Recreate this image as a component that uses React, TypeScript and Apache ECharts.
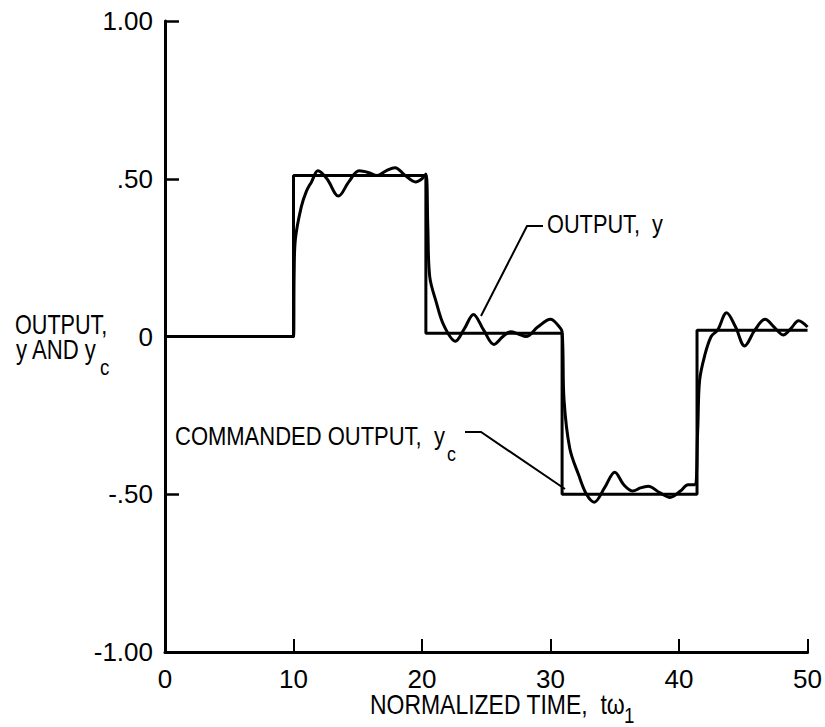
import React, { useEffect, useRef } from "react";
import * as echarts from "echarts";

// Commanded output y_c (step signal): [time, value]
const commandedTime = [0, 10, 10, 20.3, 20.3, 30.9, 30.9, 41.4, 41.4, 50];
const commandedValue = [0, 0, 0.51, 0.51, 0.01, 0.01, -0.5, -0.5, 0.02, 0.02];

// Output y (response): [time, value]
const outputTime = [
  0, 10.0, 10.05, 10.15, 10.6, 11.0, 11.4, 11.9, 12.6, 13.5, 14.3, 15.1, 15.8, 16.5, 17.2, 17.9,
  18.7, 19.5, 20.0, 20.3, 20.45, 20.6, 21.1, 21.7, 22.6, 23.3, 24.0, 24.8, 25.6, 26.3, 26.9,
  27.5, 28.1, 29.0, 30.0, 30.6, 30.9, 31.05, 31.5, 32.2, 32.8, 33.4, 34.2, 35.0, 35.7, 36.4,
  37.0, 37.6, 38.5, 39.3, 40.1, 40.7, 41.2, 41.45, 41.6, 42.0, 42.5, 43.0, 43.7, 44.4, 45.1,
  45.9, 46.7, 47.4, 48.1, 48.7, 49.3, 50.0,
];
const outputValue = [
  0, 0, 0.2, 0.31, 0.41, 0.46, 0.49, 0.525, 0.5, 0.445, 0.49, 0.525, 0.52, 0.51, 0.525, 0.535,
  0.51, 0.49, 0.5, 0.515, 0.35, 0.19, 0.11, 0.035, -0.015, 0.025, 0.07, 0.02, -0.025, 0.0, 0.015,
  0.008, 0.0, 0.03, 0.055, 0.035, 0.015, -0.2, -0.355, -0.44, -0.5, -0.525, -0.48, -0.43, -0.47, -0.49,
  -0.48, -0.475, -0.495, -0.51, -0.49, -0.47, -0.47, -0.3, -0.14, -0.06, 0.0, 0.02, 0.075, 0.03, -0.03,
  0.02, 0.055, 0.03, 0.005, 0.025, 0.05, 0.03,
];

const xTicks = [0, 10, 20, 30, 40, 50];
const yTickLabels: Record<string, string> = {
  "1": "1.00",
  "0.5": ".50",
  "0": "0",
  "-0.5": "-.50",
  "-1": "-1.00",
};

const FONT = '"Liberation Sans", Arimo, Arial, sans-serif';

function label(text: string, x: number, y: number, size: number, scaleX: number) {
  return {
    type: "text",
    x,
    y,
    scaleX,
    style: {
      text,
      fill: "#000",
      font: `${size}px ${FONT}`,
      textAlign: "left",
      textVerticalAlign: "middle",
    },
  };
}

export default function App() {
  const ref = useRef<HTMLDivElement>(null);

  useEffect(() => {
    if (!ref.current) return;
    const chart = echarts.init(ref.current, undefined, { renderer: "svg" });
    const cmd = commandedTime.map((t, i) => [t, commandedValue[i]]);
    const out = outputTime.map((t, i) => [t, outputValue[i]]);

    chart.setOption({
      animation: false,
      backgroundColor: "#ffffff",
      grid: { left: 165, right: 17, top: 21, bottom: 75, containLabel: false },
      xAxis: {
        type: "value",
        min: xTicks[0],
        max: xTicks[xTicks.length - 1],
        interval: 10,
        axisLine: { onZero: false, lineStyle: { color: "#000", width: 3 } },
        axisTick: { inside: true, length: 13, lineStyle: { color: "#000", width: 2 } },
        splitLine: { show: false },
        axisLabel: {
          color: "#000",
          fontFamily: FONT,
          fontSize: 26,
          margin: 14,
        },
      },
      yAxis: {
        type: "value",
        min: -1,
        max: 1,
        interval: 0.5,
        axisLine: { onZero: false, lineStyle: { color: "#000", width: 3 } },
        axisTick: { inside: true, length: 14, lineStyle: { color: "#000", width: 2.5 } },
        splitLine: { show: false },
        axisLabel: {
          color: "#000",
          fontFamily: FONT,
          fontSize: 26,
          margin: 12,
          formatter: (v: number) => yTickLabels[String(v)] ?? "",
        },
      },
      graphic: [
        // y-axis title
        label("OUTPUT,", 15, 325, 27, 0.8),
        label("y AND y", 16, 350, 27, 0.82),
        label("c", 100, 367, 22, 0.85),
        // x-axis title
        label("NORMALIZED TIME,  tω", 370, 704, 28, 0.82),
        label("1", 624, 715, 22, 0.85),
        // annotation: output
        label("OUTPUT,  y", 547, 224, 25, 0.87),
        {
          type: "polyline",
          shape: { points: [[481, 316], [527, 226], [543, 226]] },
          style: { stroke: "#000", lineWidth: 2, fill: "none" },
        },
        // annotation: commanded output
        label("COMMANDED OUTPUT,  y", 175, 437, 25, 0.88),
        label("c", 447, 453, 21, 0.85),
        {
          type: "polyline",
          shape: { points: [[465, 432], [481, 432], [565, 489]] },
          style: { stroke: "#000", lineWidth: 2, fill: "none" },
        },
      ],
      series: [
        {
          name: "COMMANDED OUTPUT, yc",
          type: "line",
          data: cmd,
          symbol: "none",
          lineStyle: { color: "#000", width: 3 },
          z: 3,
        },
        {
          name: "OUTPUT, y",
          type: "line",
          data: out,
          symbol: "none",
          smooth: 0.35,
          lineStyle: { color: "#000", width: 3 },
          z: 4,
        },
      ],
    });

    return () => chart.dispose();
  }, []);

  return (
    <div
      ref={ref}
      style={{ position: "fixed", left: 0, top: 0, width: 825, height: 727, background: "#fff" }}
    />
  );
}
